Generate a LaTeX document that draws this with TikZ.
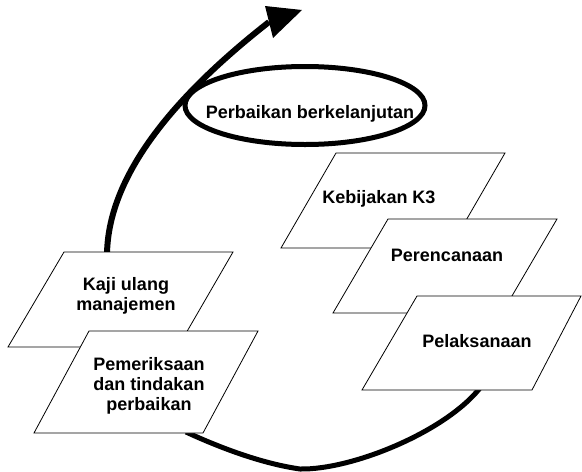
\documentclass[tikz,border=0pt]{standalone}
\usepackage{fontspec}
\setmainfont{Liberation Sans}
\begin{document}
\begin{tikzpicture}[x=1pt,y=-1pt,
  card/.style={draw=black,line width=0.8pt,fill=white,line join=miter},
  lbl/.style={font=\bfseries\fontsize{18}{20}\selectfont,align=center,anchor=base,inner sep=0pt},
  flow/.style={draw=black,line width=6pt},
  loopline/.style={draw=black,line width=5pt}]
\useasboundingbox (0,0) rectangle (582,472);
% coordinates of the flow
\coordinate (pelBot) at (480,388);
\coordinate (low) at (300,469);
\coordinate (pemBot) at (186,432);
\coordinate (kajiTop) at (107,256);
\coordinate (headBase) at (269,22);
\coordinate (headTip) at (302,10);
% hidden/behind flow curves
\draw[loopline] (pelBot) .. controls (445,432) and (352,470) .. (low)
   .. controls (265,464) and (225,450) .. (pemBot);
\draw[flow] (kajiTop) .. controls (107,165) and (195,80) .. (headBase);
\fill[black] (265,6) -- (headTip) -- (273,38) -- cycle;
% cards
\draw[card] (336,153) -- (505,153) -- (450,248) -- (281,248) -- cycle;
\node[lbl] (kebijakan) at (379,203) {Kebijakan K3};
\draw[card] (388,219) -- (557,219) -- (502,313) -- (333,313) -- cycle;
\node[lbl] (perencanaan) at (447,261) {Perencanaan};
\draw[card] (417,296) -- (581,296) -- (532,390) -- (362,390) -- cycle;
\node[lbl] (pelaksanaan) at (477,347) {Pelaksanaan};
\draw[card] (64,252) -- (233,252) -- (178,347) -- (8,347) -- cycle;
\node[lbl] (kaji) at (126,310) {Kaji ulang\\manajemen};
\draw[card] (89,331) -- (258,331) -- (203,433) -- (34,433) -- cycle;
\node[lbl] (pemeriksaan) at (149,410) {Pemeriksaan\\dan tindakan\\perbaikan};
% continual improvement loop
\draw[loopline] (305,105.5) ellipse [x radius=120, y radius=39];
\node[lbl] (perbaikan) at (310,118) {Perbaikan berkelanjutan};
\end{tikzpicture}
\end{document}
